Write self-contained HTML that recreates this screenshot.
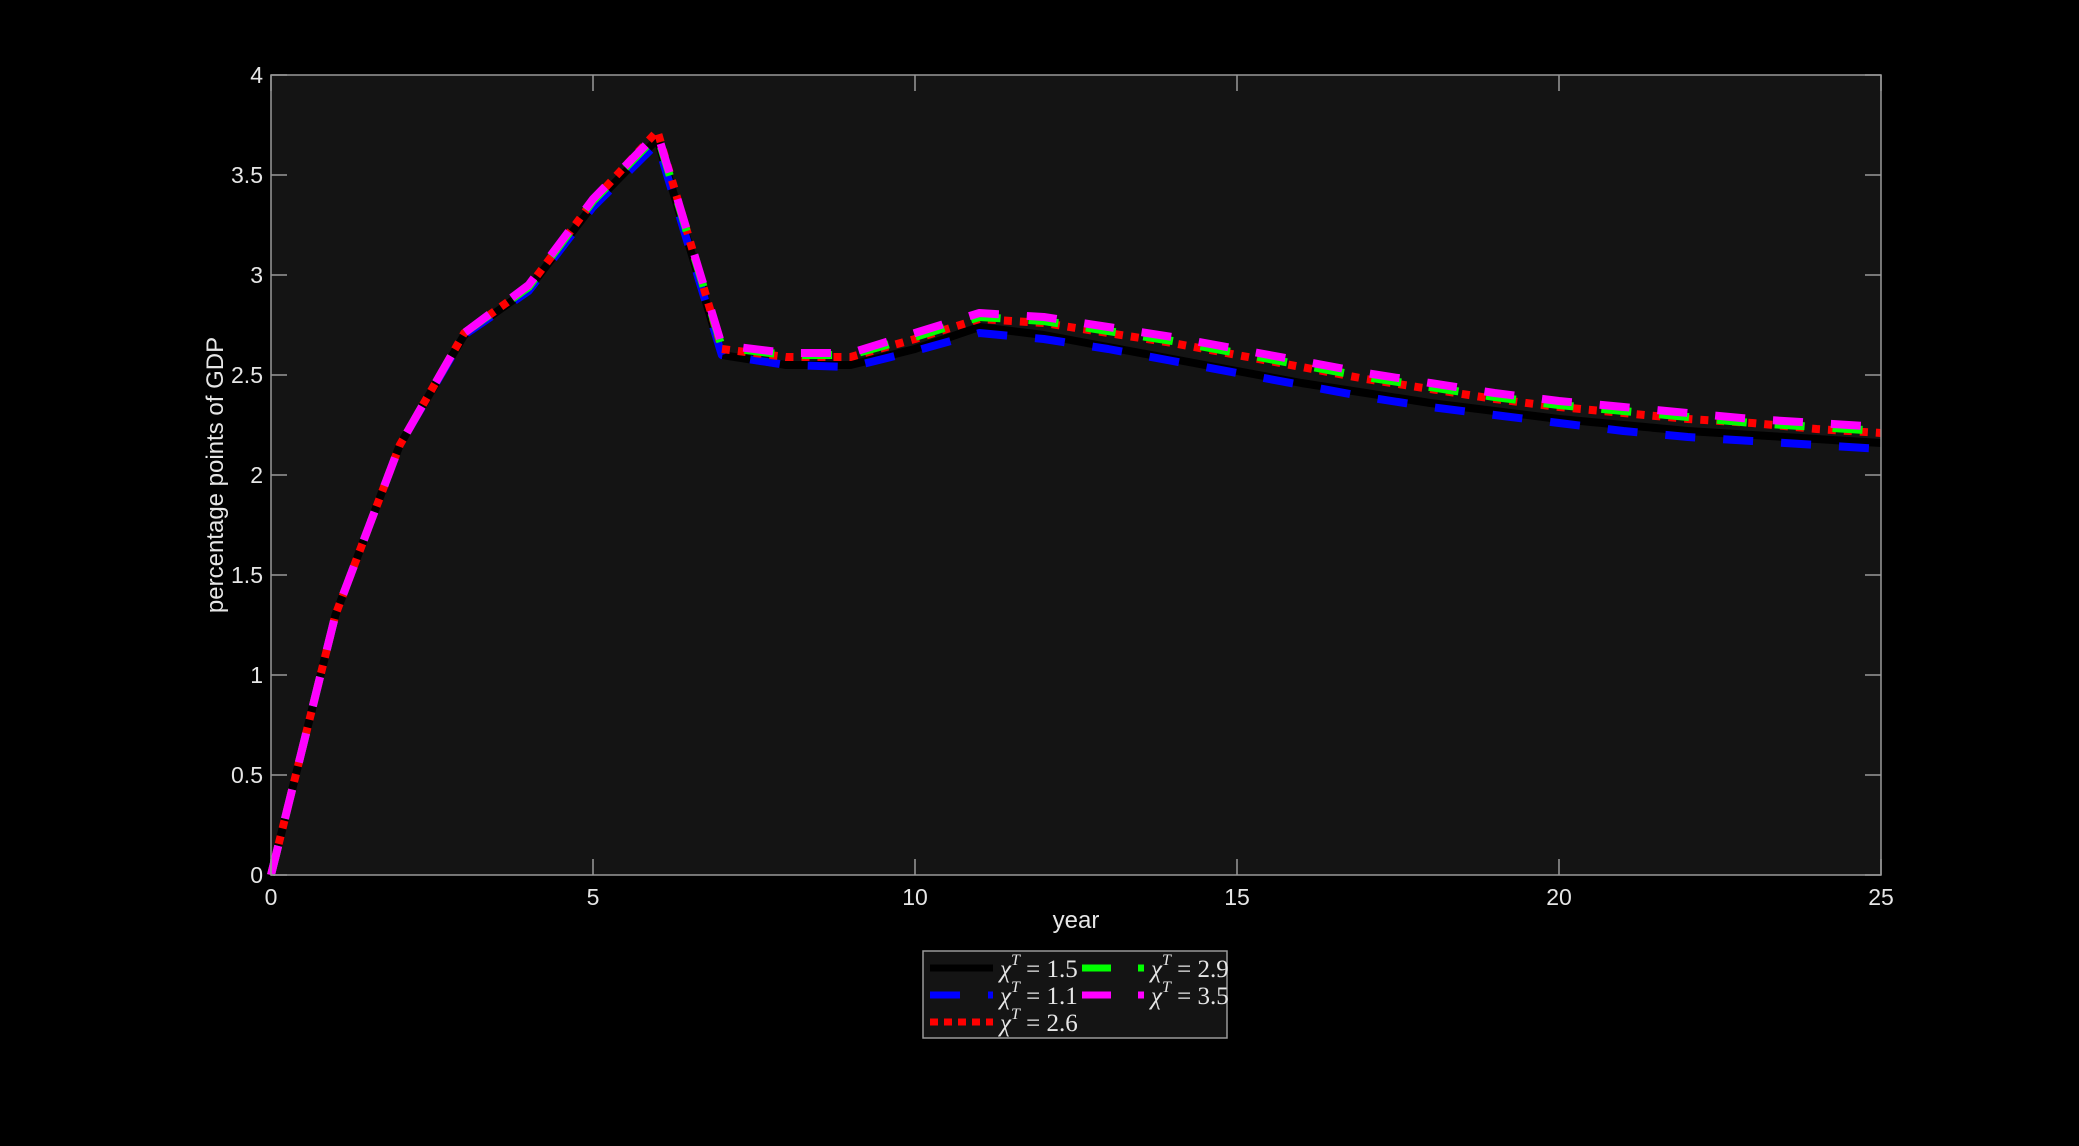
<!DOCTYPE html>
<html><head><meta charset="utf-8">
<style>
html,body{margin:0;padding:0;background:#000;}
svg{display:block;}
text{font-family:"Liberation Sans",sans-serif;fill:#e6e6e6;}
.lg{font-family:"Liberation Serif",serif;fill:#e6e6e6;font-size:25px;}
</style></head>
<body>
<svg id="chart" width="2079" height="1146" viewBox="0 0 2079 1146" xmlns="http://www.w3.org/2000/svg">
<rect width="2079" height="1146" fill="#000"/>
<rect x="271" y="75" width="1610" height="800" fill="#141414"/>
<g id="grid"></g>
<g id="series"></g>
<rect x="271" y="75" width="1610" height="800" fill="none" stroke="#999" stroke-width="1.5"/>
<g id="ticks"></g>
<text x="1076" y="928" font-size="24" text-anchor="middle">year</text>
<text transform="translate(223,475) rotate(-90)" font-size="24" text-anchor="middle">percentage points of GDP</text>
<g>
<rect x="923" y="951" width="304" height="87" fill="#141414" stroke="#999" stroke-width="1.5"/>
<line x1="930" y1="968" x2="993" y2="968" stroke="#000" stroke-width="7"/>
<text class="lg" x="1000" y="977"><tspan font-style="italic">χ</tspan><tspan font-size="16" dy="-12" font-style="italic">T</tspan><tspan dy="12"> = 1.5</tspan></text>
<line x1="930" y1="995" x2="993" y2="995" stroke="#00f" stroke-width="7" stroke-dasharray="30,28"/>
<text class="lg" x="1000" y="1004"><tspan font-style="italic">χ</tspan><tspan font-size="16" dy="-12" font-style="italic">T</tspan><tspan dy="12"> = 1.1</tspan></text>
<line x1="930" y1="1022" x2="993" y2="1022" stroke="#f00" stroke-width="7" stroke-dasharray="8,6"/>
<text class="lg" x="1000" y="1031"><tspan font-style="italic">χ</tspan><tspan font-size="16" dy="-12" font-style="italic">T</tspan><tspan dy="12"> = 2.6</tspan></text>
<line x1="1082" y1="968" x2="1145" y2="968" stroke="#0f0" stroke-width="7" stroke-dasharray="29,27,6,60"/>
<text class="lg" x="1151" y="977"><tspan font-style="italic">χ</tspan><tspan font-size="16" dy="-12" font-style="italic">T</tspan><tspan dy="12"> = 2.9</tspan></text>
<line x1="1082" y1="995" x2="1145" y2="995" stroke="#f0f" stroke-width="7" stroke-dasharray="29,27,6,60"/>
<text class="lg" x="1151" y="1004"><tspan font-style="italic">χ</tspan><tspan font-size="16" dy="-12" font-style="italic">T</tspan><tspan dy="12"> = 3.5</tspan></text>
</g>
</svg>
<script>
const years = [0,1,2,3,4,5,6,7,8,9,10,11,12,13,14,15,16,17,18,19,20,21,22,23,24,25];
const chi15 = [0,1.3,2.15,2.7,2.93,3.35,3.68,2.6,2.55,2.55,2.63,2.74,2.7,2.64,2.58,2.52,2.46,2.41,2.36,2.32,2.28,2.25,2.22,2.2,2.18,2.16];
const chi11 = [0,1.3,2.15,2.7,2.92,3.34,3.66,2.6,2.55,2.54,2.62,2.71,2.68,2.63,2.57,2.51,2.45,2.39,2.34,2.3,2.26,2.22,2.19,2.17,2.15,2.13];
const chi26 = [0,1.3,2.15,2.71,2.94,3.37,3.72,2.63,2.59,2.59,2.68,2.78,2.76,2.71,2.66,2.6,2.54,2.48,2.43,2.38,2.34,2.31,2.28,2.26,2.23,2.21];
const chi29 = [0,1.3,2.15,2.71,2.94,3.37,3.7,2.64,2.6,2.6,2.69,2.79,2.77,2.72,2.67,2.61,2.55,2.49,2.44,2.39,2.35,2.32,2.29,2.26,2.24,2.22];
const chi35 = [0,1.3,2.15,2.71,2.95,3.38,3.71,2.65,2.61,2.61,2.71,2.81,2.79,2.74,2.69,2.63,2.57,2.51,2.46,2.41,2.37,2.34,2.31,2.28,2.26,2.24];
const xTicks = [0,5,10,15,20,25];
const yTicks = [0,0.5,1,1.5,2,2.5,3,3.5,4];
const yTickLabels = ["0","0.5","1","1.5","2","2.5","3","3.5","4"];

const NS="http://www.w3.org/2000/svg";
const X0=271,X1=1881,Y0=875,Y1=75;
function sx(v){return X0+(v-0)/(25-0)*(X1-X0);}
function sy(v){return Y0-(v-0)/(4-0)*(Y0-Y1);}
const ticks=document.getElementById('ticks');
function mk(tag,attrs,parent){const e=document.createElementNS(NS,tag);for(const k in attrs)e.setAttribute(k,attrs[k]);parent.appendChild(e);return e;}
xTicks.forEach(t=>{
  const x=sx(t);
  const a=mk('line',{x1:x,y1:Y0,x2:x,y2:Y0-16,stroke:'#999','stroke-width':1.5},ticks);
  
  
  const b=mk('line',{x1:x,y1:Y1,x2:x,y2:Y1+16,stroke:'#999','stroke-width':1.5},ticks);
  
  
  const l=mk('text',{x:x,y:Y0+30,'font-size':23,'text-anchor':'middle'},ticks);
  l.textContent=String(t);
  
  
});
yTicks.forEach((t,i)=>{
  const y=sy(t);
  const a=mk('line',{x1:X0,y1:y,x2:X0+16,y2:y,stroke:'#999','stroke-width':1.5},ticks);
  
  
  const b=mk('line',{x1:X1,y1:y,x2:X1-16,y2:y,stroke:'#999','stroke-width':1.5},ticks);
  
  
  const l=mk('text',{x:X0-8,y:y+8,'font-size':23,'text-anchor':'end'},ticks);
  l.textContent=yTickLabels[i];
  
  
});
const series=document.getElementById('series');
function draw(vals,color,dash,name){
  const d=vals.map((v,i)=>(i?'L':'M')+sx(years[i]).toFixed(1)+','+sy(v).toFixed(1)).join(' ');
  const p=mk('path',{d:d,fill:'none',stroke:color,'stroke-width':8,'stroke-linejoin':'round'},series);
  if(dash)p.setAttribute('stroke-dasharray',dash);
  
  
}
draw(chi15,'#000','', 'line-chi-1.5');
draw(chi11,'#00f','30,28','line-chi-1.1');
draw(chi26,'#f00','8,8','line-chi-2.6');
draw(chi29,'#0f0','30,28','line-chi-2.9');
draw(chi35,'#f0f','30,28','line-chi-3.5');
</script>
</body></html>
